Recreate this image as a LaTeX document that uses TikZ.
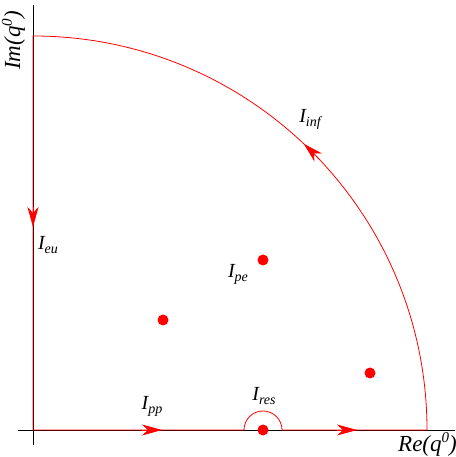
\documentclass[tikz,border=0pt]{standalone}
\usepackage{fontspec}
\setmainfont{Liberation Serif}
\usepackage{tikz}
\usetikzlibrary{arrows.meta}

\newcommand{\lowsub}[1]{\raisebox{-4pt}{\fontsize{14}{14}\selectfont #1}}
\newcommand{\highsup}[1]{\raisebox{8pt}{\fontsize{15}{15}\selectfont #1}}

\tikzset{
  contour/.style={red, line width=0.8pt},
  flowtip/.style={red, line width=0.8pt, -{Stealth[length=20pt, width=11pt, inset=6pt]}},
  pole/.style={circle, fill=red, inner sep=0pt, minimum size=11pt},
  intlabel/.style={font=\fontsize{20}{22}\selectfont\itshape, inner sep=0pt},
  axislabel/.style={font=\fontsize{23}{25}\selectfont\itshape, inner sep=0pt}
}

\begin{document}
\begin{tikzpicture}[x=1pt, y=1pt]
    \useasboundingbox (-33,-27) rectangle (422,430);

    % Axes
    \coordinate (O) at (0,0);
    \coordinate (xend) at (422,0);
    \coordinate (ystart) at (0,-15);
    \coordinate (xstart) at (-15,0);
    \coordinate (yend) at (0,425);
    \draw[line width=0.8pt] (xstart) -- (xend);
    \draw[line width=0.8pt] (ystart) -- (yend);
    \node[axislabel, anchor=base west] (relabel) at (365,-21) {Re(q\highsup{0})};
    \node[axislabel, anchor=base west, rotate=90] (imlabel) at (-13,360) {Im(q\highsup{0})};

    % Contour
    \draw[contour] (O) -- (211,0) arc[start angle=180, end angle=0, radius=19]
        -- (394,0) arc[start angle=0, end angle=90, radius=394] -- (O);

    % Direction arrows
    \draw[flowtip] (109,0) -- (129,0);
    \draw[flowtip] (304,0) -- (324,0);
    \draw[flowtip] (0,223) -- (0,203);
    \draw[flowtip] (43.6:394) arc[start angle=43.6, end angle=46.6, radius=394];

    % Poles
    \node[pole] (p1) at (230,170) {};
    \node[pole] (p2) at (130,110) {};
    \node[pole] (p3) at (337,57) {};
    \node[pole] (p4) at (230,0) {};

    % Labels
    \node[intlabel] (Iinf) at (277,311) {I\lowsub{inf}};
    \node[intlabel] (Ieu) at (15,185) {I\lowsub{eu}};
    \node[intlabel] (Ipe) at (205,156) {I\lowsub{pe}};
    \node[intlabel] (Ipp) at (119,24) {I\lowsub{pp}};
    \node[intlabel] (Ires) at (231,34) {I\lowsub{res}};
\end{tikzpicture}
\end{document}
